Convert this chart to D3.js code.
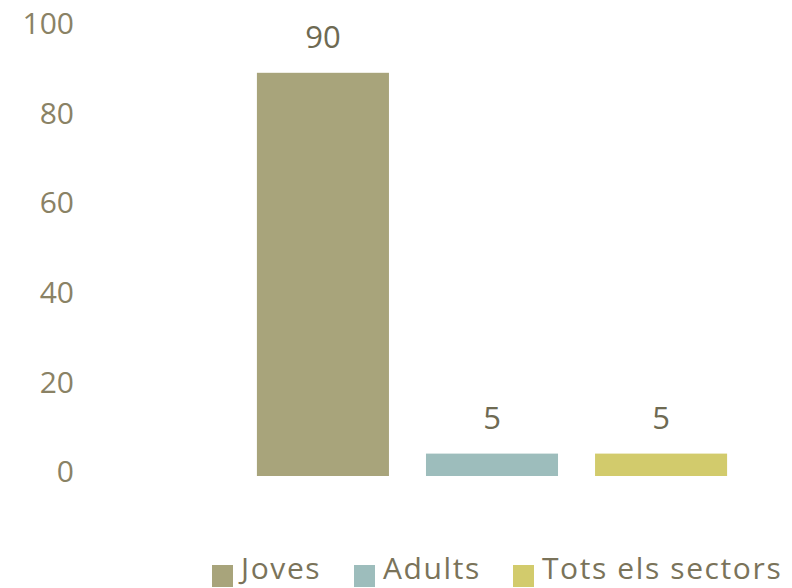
<!DOCTYPE html>
<html>
<head>
<meta charset="utf-8">
<script src="https://cdn.jsdelivr.net/npm/d3@7"></script>
<style>
  body { margin: 0; background: #fff; }
  text { font-family: "Open Sans", sans-serif; }
</style>
</head>
<body>
<svg id="chart" width="792" height="588"></svg>
<script>
// chart data
const categories = ["Joves", "Adults", "Tots els sectors"];
const values = [90, 5, 5];
const colors = ["#a8a47b", "#9dbdbc", "#d2cb6c"];
const yTicks = [0, 20, 40, 60, 80, 100];

const svg = d3.select('#chart');

const x = d3.scaleBand()
    .domain(categories)
    .range([240, 744])
    .paddingInner(0.219)
    .paddingOuter(0.1);

const y = d3.scaleLinear()
    .domain([0, 100])
    .range([476, 28]);

// y axis labels, no line and no tick marks
const yAxis = d3.axisLeft(y).tickValues(yTicks).tickSize(0).tickPadding(0);
const ga = svg.append('g')
    .attr('transform', 'translate(74, -4)')
    .call(yAxis);
ga.select('.domain').remove();
ga.selectAll('text')
    .attr('font-family', '"Open Sans", sans-serif')
    .attr('font-size', 30)
    .attr('fill', '#8a8265');

svg.append('g').selectAll('rect')
    .data(values)
    .enter()
    .append('rect')
    .attr('x', function(d, i) { return x(categories[i]); })
    .attr('y', function(d) { return y(d); })
    .attr('width', x.bandwidth())
    .attr('height', function(d) { return y(0) - y(d); })
    .attr('fill', function(d, i) { return colors[i]; });

svg.append('g').selectAll('text')
    .data(values)
    .enter()
    .append('text')
    .attr('x', function(d, i) { return x(categories[i]) + x.bandwidth() / 2; })
    .attr('y', function(d) { return y(d) - 25; })
    .attr('text-anchor', 'middle')
    .attr('font-size', 31)
    .attr('fill', '#6e6a52')
    .text(function(d) { return d; });

// legend
const legendX = [212, 354, 513];
const legend = svg.append('g').selectAll('g')
    .data(categories)
    .enter()
    .append('g')
    .attr('transform', function(d, i) { return 'translate(' + legendX[i] + ', 0)'; });

legend.append('rect')
    .attr('x', 0)
    .attr('y', 565)
    .attr('width', 21)
    .attr('height', 22)
    .attr('fill', function(d, i) { return colors[i]; });

legend.append('text')
    .attr('x', 29)
    .attr('y', 579)
    .attr('font-size', 30)
    .attr('letter-spacing', 1.6)
    .attr('fill', '#7a735a')
    .text(function(d) { return d; });
</script>
</body>
</html>
